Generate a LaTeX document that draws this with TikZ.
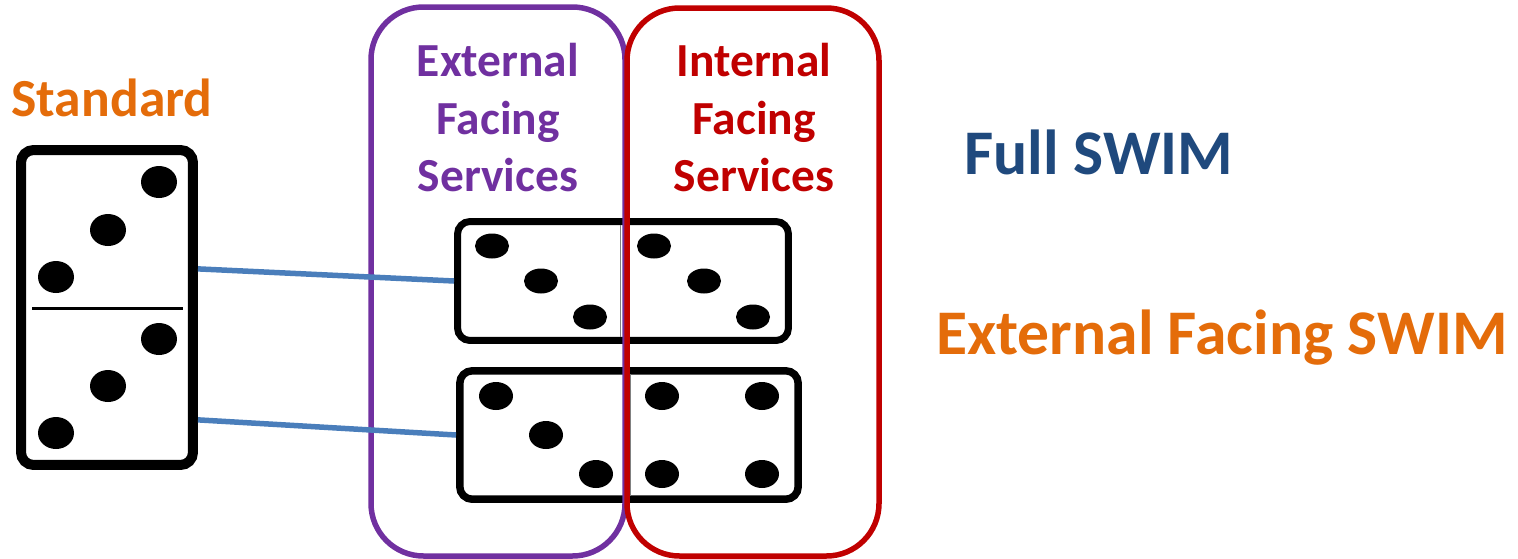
\documentclass[tikz,border=0pt]{standalone}
\usepackage{fontspec}
\setmainfont{Carlito}
\usepackage{xcolor}
\definecolor{extpurple}{HTML}{7030A0}
\definecolor{intred}{HTML}{C00000}
\definecolor{stdorange}{HTML}{E46C0A}
\definecolor{fullnavy}{HTML}{1F497D}
\definecolor{linkblue}{HTML}{4A7EBB}
\tikzset{
  tile/.style={draw=black,fill=white,rectangle,rounded corners=0.25cm,inner sep=0pt},
  group/.style={draw,line width=1.1mm,rounded corners=1.05cm},
  link/.style={draw=linkblue,line width=1.1mm},
  label/.style={font=\bfseries\fontsize{27}{30}\selectfont,anchor=base,inner sep=0pt},
  title/.style={font=\bfseries\fontsize{36.2}{42}\selectfont,anchor=base west,inner sep=0pt}
}
\begin{document}
\begin{tikzpicture}[x=0.02cm,y=-0.02cm]
        \useasboundingbox (0,0) rectangle (1518,558);
        % the three dominoes
        \node[tile,line width=2mm,minimum width=3.44cm,minimum height=6.3cm] (stdtile) at (107,307.5) {};
        \node[tile,line width=1.4mm,minimum width=6.62cm,minimum height=2.38cm] (toptile) at (623,281) {};
        \node[tile,line width=1.5mm,minimum width=6.77cm,minimum height=2.57cm] (lowtile) at (629,435) {};
        \draw[line width=0.6mm] (32,308) -- (183,308);
        \draw[line width=0.2mm,black!50] (620,225) -- (620,337);
        \draw[line width=0.2mm,black!50] (630,374) -- (630,496);
        \foreach \x/\y in {159/182,108/230,56/277,159/339,108/386,56/433} {
        \fill (\x,\y) ellipse [x radius=18,y radius=16]; }
        \foreach \x/\y in {492/246,541/281,590/317,654/246,704/281,753/317} {
        \fill (\x,\y) ellipse [x radius=17,y radius=12.5]; }
        \foreach \x/\y in {496/396,546/435,596/474,662/396,762/396,662/474,762/474} {
        \fill (\x,\y) ellipse [x radius=17,y radius=14]; }
        % service groups
        \draw[group,extpurple] (371,7) rectangle (625,556);
        \draw[group,intred] (627,8) rectangle (879,556);
        \draw[link] (stdtile.23.5) -- (toptile.west);
        \draw[link] (stdtile.-51.6) -- (lowtile.west);
        % labels
        \node[label,stdorange,font=\bfseries\fontsize{30.5}{34}\selectfont] (stdlabel) at (112,116) {Standard};
        \foreach \t/\y in {External/76,Facing/134,Services/191} {
        \node[label,extpurple] (ext\t) at (498,\y) {\t}; }
        \foreach \t/\y in {Internal/76,Facing/134,Services/191} {
        \node[label,intred] (int\t) at (754,\y) {\t}; }
        \node[title,fullnavy] (fullswim) at (964,174) {Full SWIM};
        \node[title,stdorange] (extswim) at (936,354) {External Facing SWIM};
      \end{tikzpicture}
\end{document}
